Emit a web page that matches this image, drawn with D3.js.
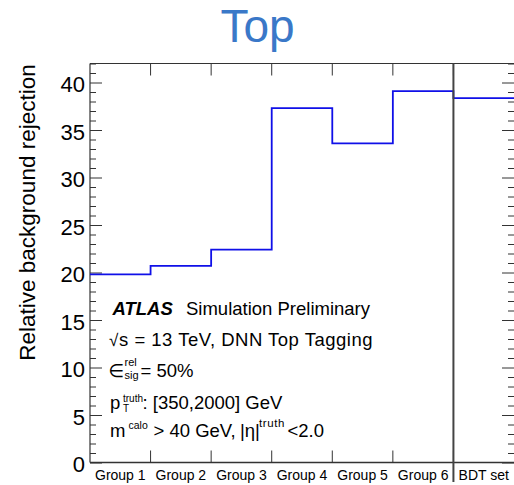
<!DOCTYPE html>
<html>
<head>
<meta charset="utf-8">
<script src="https://cdn.jsdelivr.net/npm/d3@7"></script>
<style>
  html, body { margin: 0; padding: 0; background: #fff; }
  svg { display: block; font-family: "Liberation Sans", Arial, Helvetica, sans-serif; }
</style>
</head>
<body>
<svg id="chart" width="514" height="485"></svg>
<script>
// Groups of tagger inputs and their relative background rejection
const categories = ["Group 1", "Group 2", "Group 3", "Group 4", "Group 5", "Group 6", "BDT set"];
const rejection = [19.8, 20.7, 22.4, 37.3, 33.6, 39.1, 38.35];
const yMajorTicks = [0, 5, 10, 15, 20, 25, 30, 35, 40];
const yDomain = [0, 42];

const svg = d3.select("#chart");
const plot = { left: 90, right: 514, top: 63.5, bottom: 462.5 };

const x = d3.scaleBand().domain(categories).range([plot.left, plot.right]).padding(0);
const y = d3.scaleLinear().domain(yDomain).range([plot.bottom, plot.top]);

// Title
svg.append("text")
  .attr("x", 257.5).attr("y", 42)
  .attr("text-anchor", "middle")
  .attr("font-size", 46)
  .attr("fill", "#3a78c8")
  .text("Top");

// Frame
const frame = svg.append("g").attr("stroke", "#333").attr("fill", "none");
frame.append("line").attr("x1", plot.left).attr("x2", plot.right).attr("y1", plot.top).attr("y2", plot.top).attr("stroke-width", 1);
frame.append("line").attr("x1", plot.left).attr("x2", plot.right).attr("y1", plot.bottom).attr("y2", plot.bottom).attr("stroke-width", 1.6);
frame.append("line").attr("x1", plot.left).attr("x2", plot.left).attr("y1", plot.top).attr("y2", plot.bottom).attr("stroke-width", 1.2);

// Minor y ticks (every unit)
const minorVals = d3.range(yDomain[0], yDomain[1] + 1).filter(v => v % 5 !== 0);
function styleAxis(g) {
  g.select(".domain").remove();
  g.selectAll(".tick line").attr("stroke", "#333").attr("stroke-width", 1);
}
svg.append("g").attr("transform", `translate(${plot.left},0)`)
  .call(d3.axisLeft(y).tickValues(minorVals).tickSize(-6).tickFormat(""))
  .call(styleAxis);
svg.append("g").attr("transform", `translate(${plot.right},0)`)
  .call(d3.axisRight(y).tickValues(minorVals).tickSize(-6).tickFormat(""))
  .call(styleAxis);

// Major y ticks with labels
const yAxis = svg.append("g").attr("transform", `translate(${plot.left},0)`)
  .call(d3.axisLeft(y).tickValues(yMajorTicks).tickSize(-12).tickPadding(5).tickFormat(d3.format("d")))
  .call(styleAxis);
yAxis.selectAll(".tick text")
  .attr("font-family", "Liberation Sans, Arial, sans-serif")
  .attr("font-size", 22)
  .attr("fill", "#000")
  .attr("dy", "0.42em");
svg.append("g").attr("transform", `translate(${plot.right},0)`)
  .call(d3.axisRight(y).tickValues(yMajorTicks).tickSize(-12).tickFormat(""))
  .call(styleAxis);

// Bin boundary ticks on top and bottom edges
const boundaries = categories.slice(1).map(c => x(c));
const bt = svg.append("g").attr("stroke", "#333").attr("stroke-width", 1);
bt.selectAll(".tt").data(boundaries).join("line")
  .attr("x1", d => d).attr("x2", d => d)
  .attr("y1", plot.top).attr("y2", plot.top + 12);
bt.selectAll(".tb").data(boundaries).join("line")
  .attr("x1", d => d).attr("x2", d => d)
  .attr("y1", plot.bottom - 12).attr("y2", plot.bottom);

// Category labels
const xAxis = svg.append("g").attr("transform", `translate(0,${plot.bottom})`)
  .call(d3.axisBottom(x).tickSize(0).tickPadding(7.5));
xAxis.select(".domain").remove();
xAxis.selectAll(".tick text")
  .attr("font-family", "Liberation Sans, Arial, sans-serif")
  .attr("font-size", 14)
  .attr("fill", "#000");

// Y axis title
svg.append("text")
  .attr("transform", `translate(35,212.5) rotate(-90)`)
  .attr("text-anchor", "middle")
  .attr("font-size", 22.5)
  .attr("fill", "#000")
  .text("Relative background rejection");

// Step histogram
const stepPts = categories.map((c, i) => [x(c), y(rejection[i])]);
stepPts.push([x(categories[categories.length - 1]) + x.bandwidth(), y(rejection[rejection.length - 1])]);
svg.append("path")
  .attr("d", d3.line().curve(d3.curveStepAfter)(stepPts))
  .attr("fill", "none")
  .attr("stroke", "#1010e8")
  .attr("stroke-width", 1.8);

// Separator between the groups and the BDT input set
svg.append("line")
  .attr("x1", x("BDT set")).attr("x2", x("BDT set"))
  .attr("y1", plot.top).attr("y2", 482)
  .attr("stroke", "#444").attr("stroke-width", 2);

// Annotation text: each piece placed at its own x, with offset baselines for sup/sub
function piece(px, py, t, opts = {}) {
  const el = svg.append("text")
    .attr("x", px).attr("y", py)
    .attr("font-size", opts.size || 18.5)
    .attr("fill", "#000")
    .text(t);
  if (opts.weight) el.attr("font-weight", opts.weight);
  if (opts.style) el.attr("font-style", opts.style);
  if (opts.family) el.attr("font-family", opts.family);
  if (opts.spacing) el.attr("letter-spacing", opts.spacing);
  if (opts.len) el.attr("textLength", opts.len).attr("lengthAdjust", "spacing");
  return el;
}

// Line 1
piece(112.5, 315, "ATLAS", { weight: "bold", style: "italic" });
piece(186, 315, "Simulation Preliminary");

// Line 2
piece(109, 346, "\u221A", { size: 17 });
piece(119, 346, "s = 13 TeV, DNN Top Tagging", { len: 253.5 });

// Line 3
piece(108.5, 377, "\u2208", { size: 18, family: "DejaVu Sans, sans-serif" });
piece(124.5, 366, "rel", { size: 11 });
piece(124.5, 379, "sig", { size: 11 });
piece(140.5, 377, "= 50%");

// Line 4
piece(110, 408.5, "p");
piece(123, 402, "truth", { size: 10 });
piece(123, 412, "T", { size: 10 });
piece(142.5, 408.5, ": [350,2000] GeV");

// Line 5
piece(110, 437, "m");
piece(128.5, 428.5, "calo", { size: 10.5 });
piece(153.5, 437, "> 40 GeV,");
piece(240, 437, "|\u03B7|");
piece(259, 427, "truth", { size: 11.5, spacing: 0.6 });
piece(287.5, 437, "<2.0");
</script>
</body>
</html>
